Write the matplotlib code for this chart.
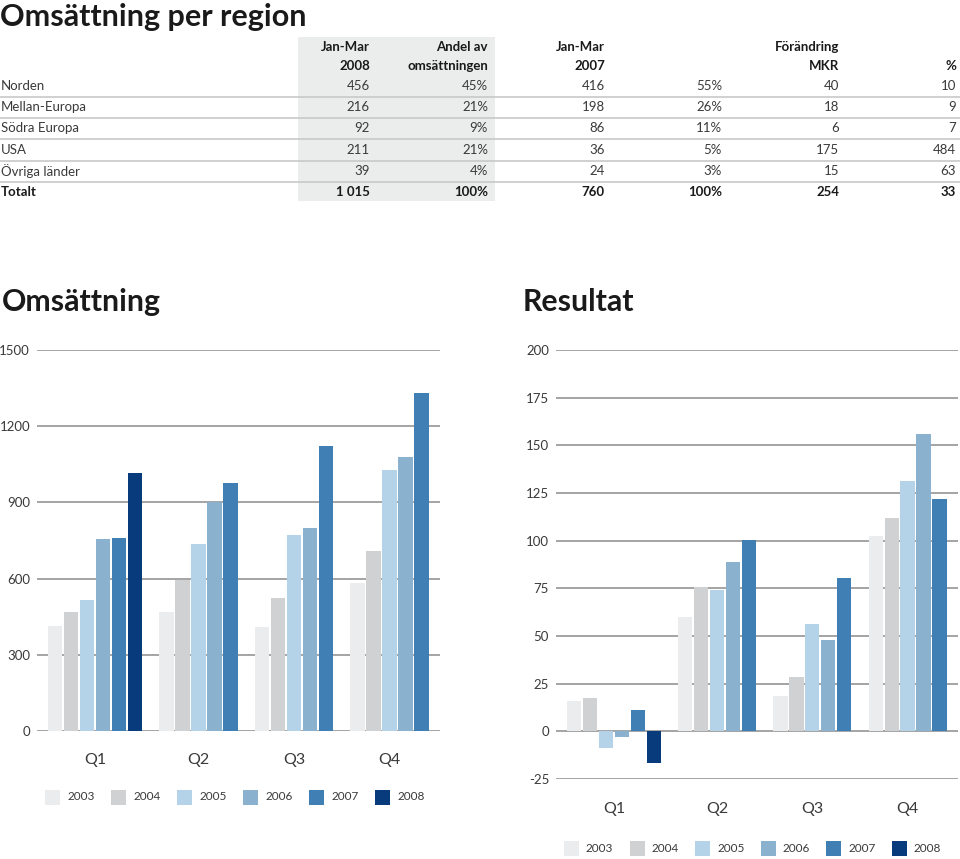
import matplotlib
matplotlib.use("Agg")
import matplotlib.pyplot as plt
from matplotlib.patches import Rectangle
import numpy as np

plt.rcParams['font.family'] = ['Lato', 'DejaVu Sans']

# ---------------- data ----------------
regions = ["Norden", "Mellan-Europa", "Södra Europa", "USA", "Övriga länder", "Totalt"]
sales_2008 = ["456", "216", "92", "211", "39", "1 015"]
share_2008 = ["45%", "21%", "9%", "21%", "4%", "100%"]
sales_2007 = ["416", "198", "86", "36", "24", "760"]
share_2007 = ["55%", "26%", "11%", "5%", "3%", "100%"]
change_mkr = ["40", "18", "6", "175", "15", "254"]
change_pct = ["10", "9", "7", "484", "63", "33"]

quarters = ["Q1", "Q2", "Q3", "Q4"]
years = ["2003", "2004", "2005", "2006", "2007", "2008"]
colors = ["#ebeced", "#d0d1d3", "#b5d3e8", "#8ab2cf", "#3f7fb4", "#083b7b"]

# Omsättning per quarter, per year (None = no data)
oms = {
    "2003": [413, 467, 411, 584],
    "2004": [467, 595, 524, 710],
    "2005": [516, 738, 773, 1029],
    "2006": [754, 901, 800, 1078],
    "2007": [759, 977, 1124, 1331],
    "2008": [1015, None, None, None],
}
res = {
    "2003": [15.9, 60.2, 18.3, 102.6],
    "2004": [17.6, 75.9, 28.6, 111.8],
    "2005": [-8.5, 74.3, 56.3, 131.5],
    "2006": [-2.8, 89.0, 48.0, 155.9],
    "2007": [11.0, 100.5, 80.4, 121.9],
    "2008": [-16.4, None, None, None],
}
oms_ticks = [0, 300, 600, 900, 1200, 1500]
res_ticks = [-25, 0, 25, 50, 75, 100, 125, 150, 175, 200]

W, H = 960, 859
fig = plt.figure(figsize=(W / 100, H / 100), dpi=100)

TXT = "#3a3a3a"

# ---------------- table (pixel overlay) ----------------
ov = fig.add_axes([0, 0, 1, 1])
ov.set_xlim(0, W)
ov.set_ylim(H, 0)
ov.axis("off")

ov.text(0, 26, "Omsättning per region", fontsize=22, fontweight="bold",
        ha="left", va="baseline", color="#1a1a1a")
ov.add_patch(Rectangle((298, 37), 197, 164, facecolor="#ebecec", edgecolor="none", zorder=0))

col_x = [370, 488, 605, 722, 839, 956]
hdr1 = ["Jan-Mar", "Andel av", "Jan-Mar", "", "Förändring", ""]
hdr2 = ["2008", "omsättningen", "2007", "", "MKR", "%"]
for x, a, b in zip(col_x, hdr1, hdr2):
    ov.text(x, 47, a, fontsize=9.5, fontweight="bold", ha="right", va="center", color="#1a1a1a")
    ov.text(x, 66, b, fontsize=9.5, fontweight="bold", ha="right", va="center", color="#1a1a1a")

row_y = [86, 107, 128, 150, 171, 192]
cols = [sales_2008, share_2008, sales_2007, share_2007, change_mkr, change_pct]
for i, (name, y) in enumerate(zip(regions, row_y)):
    last = i == len(regions) - 1
    wt = "bold" if last else "normal"
    c = "#1a1a1a" if last else TXT
    ov.text(1, y, name, fontsize=9.5, fontweight=wt, ha="left", va="center", color=c)
    for x, col in zip(col_x, cols):
        ov.text(x, y, col[i], fontsize=9.5, fontweight=wt, ha="right", va="center", color=c)
    if not last:
        ov.plot([0, W], [y + 10.5, y + 10.5], color="#c8c8c8", lw=1.2, zorder=1)

# chart titles
ov.text(2, 311, "Omsättning", fontsize=21.8, fontweight="bold", ha="left", va="baseline", color="#1a1a1a")
ov.text(523, 311, "Resultat", fontsize=21.8, fontweight="bold", ha="left", va="baseline", color="#1a1a1a")

# legends
def legend(x0, yc, step):
    for i, (yr, c) in enumerate(zip(years, colors)):
        x = x0 + step * i
        ov.add_patch(Rectangle((x, yc - 7.5), 15, 15, facecolor=c, edgecolor="none"))
        ov.text(x + 22, yc, yr, fontsize=8.5, ha="left", va="center", color=TXT)

legend(45, 797, 66)
legend(564, 848, 65.6)

# ---------------- bar charts ----------------
centers = np.array([58, 161.5, 257, 352.5])
pitch, bw = 16.0, 14.3


def bar_chart(rect, data, ticks, ylim, pad_x):
    ax = fig.add_axes(rect)
    ax.set_xlim(0, 403)
    ax.set_ylim(*ylim)
    for s in ax.spines.values():
        s.set_visible(False)
    ax.set_yticks(ticks)
    ax.set_yticklabels([str(t) for t in ticks])
    ax.tick_params(axis="y", length=0, pad=5, labelsize=9.5, labelcolor=TXT)
    ax.set_xticks(centers)
    ax.set_xticklabels(quarters)
    ax.tick_params(axis="x", length=0, pad=pad_x, labelsize=11.5, labelcolor=TXT)
    for t in ticks:
        ax.axhline(t, color="#8c8c8c", lw=1.1, zorder=1)
    for qi in range(len(quarters)):
        present = [(yr, c) for yr, c in zip(years, colors) if data[yr][qi] is not None]
        n = len(present)
        for j, (yr, c) in enumerate(present):
            x = centers[qi] + (j - (n - 1) / 2) * pitch
            ax.bar(x, data[yr][qi], width=bw, color=c, zorder=2, linewidth=0)
    return ax


bar_chart([37 / W, 1 - 731 / H, 403 / W, 381 / H], oms, oms_ticks, (0, 1500), 16)
bar_chart([556 / W, 1 - 779 / H, 402 / W, 429 / H], res, res_ticks, (-25, 200), 16.5)

fig.savefig("out.png", dpi=100)
